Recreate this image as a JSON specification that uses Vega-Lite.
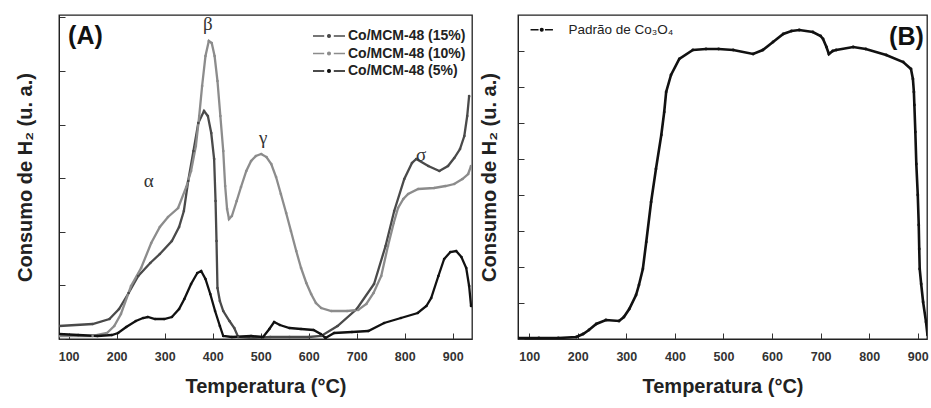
{
  "$schema": "https://vega.github.io/schema/vega-lite/v6.json",
  "padding": {"left": 14, "top": 14, "right": 0, "bottom": 0},
  "background": "white",
  "spacing": 5,
  "config": {
    "font": "Liberation Sans",
    "view": {"stroke": "#222", "strokeWidth": 1.3},
    "axis": {
      "grid": false,
      "domainColor": "#222",
      "tickColor": "#333",
      "labelFont": "Liberation Sans",
      "labelFontWeight": "bold",
      "labelFontSize": 12.5,
      "labelColor": "#333",
      "titleFont": "Liberation Sans",
      "titleFontWeight": "bold",
      "titleFontSize": 20,
      "titleColor": "#222"
    },
    "legend": {
      "labelFont": "Liberation Sans",
      "labelColor": "#222",
      "symbolStrokeWidth": 1.3
    }
  },
  "datasets": {
    "tprA": [
      {"s": "Co/MCM-48 (15%)", "T": 80, "v": 13}, {"s": "Co/MCM-48 (15%)", "T": 150, "v": 15}, {"s": "Co/MCM-48 (15%)", "T": 185, "v": 20}, {"s": "Co/MCM-48 (15%)", "T": 205, "v": 30}, {"s": "Co/MCM-48 (15%)", "T": 225, "v": 46}, {"s": "Co/MCM-48 (15%)", "T": 245, "v": 63}, {"s": "Co/MCM-48 (15%)", "T": 270, "v": 76}, {"s": "Co/MCM-48 (15%)", "T": 290, "v": 85}, {"s": "Co/MCM-48 (15%)", "T": 315, "v": 98}, {"s": "Co/MCM-48 (15%)", "T": 330, "v": 112}, {"s": "Co/MCM-48 (15%)", "T": 340, "v": 128}, {"s": "Co/MCM-48 (15%)", "T": 349, "v": 158}, {"s": "Co/MCM-48 (15%)", "T": 360, "v": 188}, {"s": "Co/MCM-48 (15%)", "T": 370, "v": 216}, {"s": "Co/MCM-48 (15%)", "T": 382, "v": 228}, {"s": "Co/MCM-48 (15%)", "T": 390, "v": 223}, {"s": "Co/MCM-48 (15%)", "T": 397, "v": 206}, {"s": "Co/MCM-48 (15%)", "T": 403, "v": 180}, {"s": "Co/MCM-48 (15%)", "T": 406, "v": 138}, {"s": "Co/MCM-48 (15%)", "T": 408, "v": 98}, {"s": "Co/MCM-48 (15%)", "T": 410, "v": 51}, {"s": "Co/MCM-48 (15%)", "T": 415, "v": 38}, {"s": "Co/MCM-48 (15%)", "T": 422, "v": 28}, {"s": "Co/MCM-48 (15%)", "T": 435, "v": 18}, {"s": "Co/MCM-48 (15%)", "T": 445, "v": 11}, {"s": "Co/MCM-48 (15%)", "T": 453, "v": 2}, {"s": "Co/MCM-48 (15%)", "T": 480, "v": 1}, {"s": "Co/MCM-48 (15%)", "T": 520, "v": 2}, {"s": "Co/MCM-48 (15%)", "T": 560, "v": 2}, {"s": "Co/MCM-48 (15%)", "T": 600, "v": 2}, {"s": "Co/MCM-48 (15%)", "T": 626, "v": 3}, {"s": "Co/MCM-48 (15%)", "T": 660, "v": 13}, {"s": "Co/MCM-48 (15%)", "T": 700, "v": 30}, {"s": "Co/MCM-48 (15%)", "T": 736, "v": 55}, {"s": "Co/MCM-48 (15%)", "T": 760, "v": 93}, {"s": "Co/MCM-48 (15%)", "T": 778, "v": 128}, {"s": "Co/MCM-48 (15%)", "T": 799, "v": 160}, {"s": "Co/MCM-48 (15%)", "T": 815, "v": 176}, {"s": "Co/MCM-48 (15%)", "T": 824, "v": 180}, {"s": "Co/MCM-48 (15%)", "T": 849, "v": 173}, {"s": "Co/MCM-48 (15%)", "T": 872, "v": 168}, {"s": "Co/MCM-48 (15%)", "T": 890, "v": 173}, {"s": "Co/MCM-48 (15%)", "T": 903, "v": 181}, {"s": "Co/MCM-48 (15%)", "T": 915, "v": 190}, {"s": "Co/MCM-48 (15%)", "T": 924, "v": 203}, {"s": "Co/MCM-48 (15%)", "T": 930, "v": 223}, {"s": "Co/MCM-48 (15%)", "T": 934, "v": 243},
      {"s": "Co/MCM-48 (10%)", "T": 80, "v": 3}, {"s": "Co/MCM-48 (10%)", "T": 150, "v": 3}, {"s": "Co/MCM-48 (10%)", "T": 180, "v": 6}, {"s": "Co/MCM-48 (10%)", "T": 195, "v": 13}, {"s": "Co/MCM-48 (10%)", "T": 209, "v": 25}, {"s": "Co/MCM-48 (10%)", "T": 230, "v": 53}, {"s": "Co/MCM-48 (10%)", "T": 251, "v": 71}, {"s": "Co/MCM-48 (10%)", "T": 272, "v": 96}, {"s": "Co/MCM-48 (10%)", "T": 290, "v": 112}, {"s": "Co/MCM-48 (10%)", "T": 307, "v": 122}, {"s": "Co/MCM-48 (10%)", "T": 328, "v": 131}, {"s": "Co/MCM-48 (10%)", "T": 345, "v": 152}, {"s": "Co/MCM-48 (10%)", "T": 355, "v": 168}, {"s": "Co/MCM-48 (10%)", "T": 365, "v": 193}, {"s": "Co/MCM-48 (10%)", "T": 372, "v": 223}, {"s": "Co/MCM-48 (10%)", "T": 378, "v": 253}, {"s": "Co/MCM-48 (10%)", "T": 385, "v": 283}, {"s": "Co/MCM-48 (10%)", "T": 392, "v": 298}, {"s": "Co/MCM-48 (10%)", "T": 398, "v": 296}, {"s": "Co/MCM-48 (10%)", "T": 404, "v": 283}, {"s": "Co/MCM-48 (10%)", "T": 410, "v": 258}, {"s": "Co/MCM-48 (10%)", "T": 416, "v": 223}, {"s": "Co/MCM-48 (10%)", "T": 422, "v": 188}, {"s": "Co/MCM-48 (10%)", "T": 426, "v": 153}, {"s": "Co/MCM-48 (10%)", "T": 430, "v": 130}, {"s": "Co/MCM-48 (10%)", "T": 434, "v": 120}, {"s": "Co/MCM-48 (10%)", "T": 440, "v": 123}, {"s": "Co/MCM-48 (10%)", "T": 450, "v": 138}, {"s": "Co/MCM-48 (10%)", "T": 459, "v": 152}, {"s": "Co/MCM-48 (10%)", "T": 470, "v": 168}, {"s": "Co/MCM-48 (10%)", "T": 480, "v": 178}, {"s": "Co/MCM-48 (10%)", "T": 490, "v": 183}, {"s": "Co/MCM-48 (10%)", "T": 501, "v": 185}, {"s": "Co/MCM-48 (10%)", "T": 512, "v": 182}, {"s": "Co/MCM-48 (10%)", "T": 522, "v": 175}, {"s": "Co/MCM-48 (10%)", "T": 532, "v": 162}, {"s": "Co/MCM-48 (10%)", "T": 542, "v": 145}, {"s": "Co/MCM-48 (10%)", "T": 553, "v": 126}, {"s": "Co/MCM-48 (10%)", "T": 563, "v": 108}, {"s": "Co/MCM-48 (10%)", "T": 574, "v": 88}, {"s": "Co/MCM-48 (10%)", "T": 584, "v": 71}, {"s": "Co/MCM-48 (10%)", "T": 595, "v": 56}, {"s": "Co/MCM-48 (10%)", "T": 605, "v": 45}, {"s": "Co/MCM-48 (10%)", "T": 615, "v": 36}, {"s": "Co/MCM-48 (10%)", "T": 626, "v": 31}, {"s": "Co/MCM-48 (10%)", "T": 647, "v": 28}, {"s": "Co/MCM-48 (10%)", "T": 680, "v": 28}, {"s": "Co/MCM-48 (10%)", "T": 703, "v": 29}, {"s": "Co/MCM-48 (10%)", "T": 720, "v": 35}, {"s": "Co/MCM-48 (10%)", "T": 735, "v": 46}, {"s": "Co/MCM-48 (10%)", "T": 751, "v": 63}, {"s": "Co/MCM-48 (10%)", "T": 765, "v": 93}, {"s": "Co/MCM-48 (10%)", "T": 777, "v": 116}, {"s": "Co/MCM-48 (10%)", "T": 786, "v": 131}, {"s": "Co/MCM-48 (10%)", "T": 797, "v": 140}, {"s": "Co/MCM-48 (10%)", "T": 807, "v": 145}, {"s": "Co/MCM-48 (10%)", "T": 828, "v": 150}, {"s": "Co/MCM-48 (10%)", "T": 861, "v": 151}, {"s": "Co/MCM-48 (10%)", "T": 885, "v": 153}, {"s": "Co/MCM-48 (10%)", "T": 903, "v": 155}, {"s": "Co/MCM-48 (10%)", "T": 920, "v": 160}, {"s": "Co/MCM-48 (10%)", "T": 932, "v": 165}, {"s": "Co/MCM-48 (10%)", "T": 938, "v": 173},
      {"s": "Co/MCM-48 (5%)", "T": 80, "v": 5}, {"s": "Co/MCM-48 (5%)", "T": 120, "v": 4}, {"s": "Co/MCM-48 (5%)", "T": 160, "v": 3}, {"s": "Co/MCM-48 (5%)", "T": 190, "v": 4}, {"s": "Co/MCM-48 (5%)", "T": 203, "v": 6}, {"s": "Co/MCM-48 (5%)", "T": 220, "v": 12}, {"s": "Co/MCM-48 (5%)", "T": 240, "v": 18}, {"s": "Co/MCM-48 (5%)", "T": 255, "v": 21}, {"s": "Co/MCM-48 (5%)", "T": 265, "v": 22}, {"s": "Co/MCM-48 (5%)", "T": 280, "v": 20}, {"s": "Co/MCM-48 (5%)", "T": 299, "v": 20}, {"s": "Co/MCM-48 (5%)", "T": 315, "v": 22}, {"s": "Co/MCM-48 (5%)", "T": 330, "v": 30}, {"s": "Co/MCM-48 (5%)", "T": 341, "v": 40}, {"s": "Co/MCM-48 (5%)", "T": 355, "v": 55}, {"s": "Co/MCM-48 (5%)", "T": 368, "v": 66}, {"s": "Co/MCM-48 (5%)", "T": 376, "v": 68}, {"s": "Co/MCM-48 (5%)", "T": 385, "v": 60}, {"s": "Co/MCM-48 (5%)", "T": 395, "v": 45}, {"s": "Co/MCM-48 (5%)", "T": 405, "v": 28}, {"s": "Co/MCM-48 (5%)", "T": 415, "v": 13}, {"s": "Co/MCM-48 (5%)", "T": 422, "v": 3}, {"s": "Co/MCM-48 (5%)", "T": 440, "v": 2}, {"s": "Co/MCM-48 (5%)", "T": 480, "v": 3}, {"s": "Co/MCM-48 (5%)", "T": 505, "v": 2}, {"s": "Co/MCM-48 (5%)", "T": 518, "v": 10}, {"s": "Co/MCM-48 (5%)", "T": 528, "v": 17}, {"s": "Co/MCM-48 (5%)", "T": 540, "v": 14}, {"s": "Co/MCM-48 (5%)", "T": 560, "v": 11}, {"s": "Co/MCM-48 (5%)", "T": 584, "v": 10}, {"s": "Co/MCM-48 (5%)", "T": 610, "v": 9}, {"s": "Co/MCM-48 (5%)", "T": 625, "v": 5}, {"s": "Co/MCM-48 (5%)", "T": 635, "v": 1}, {"s": "Co/MCM-48 (5%)", "T": 653, "v": 6}, {"s": "Co/MCM-48 (5%)", "T": 690, "v": 7}, {"s": "Co/MCM-48 (5%)", "T": 724, "v": 8}, {"s": "Co/MCM-48 (5%)", "T": 757, "v": 16}, {"s": "Co/MCM-48 (5%)", "T": 792, "v": 21}, {"s": "Co/MCM-48 (5%)", "T": 827, "v": 26}, {"s": "Co/MCM-48 (5%)", "T": 845, "v": 33}, {"s": "Co/MCM-48 (5%)", "T": 855, "v": 41}, {"s": "Co/MCM-48 (5%)", "T": 870, "v": 63}, {"s": "Co/MCM-48 (5%)", "T": 882, "v": 80}, {"s": "Co/MCM-48 (5%)", "T": 895, "v": 87}, {"s": "Co/MCM-48 (5%)", "T": 907, "v": 88}, {"s": "Co/MCM-48 (5%)", "T": 918, "v": 82}, {"s": "Co/MCM-48 (5%)", "T": 928, "v": 71}, {"s": "Co/MCM-48 (5%)", "T": 934, "v": 53}, {"s": "Co/MCM-48 (5%)", "T": 938, "v": 33}
    ],
    "labelsA": [
      {"t": "β", "T": 390, "v": 315, "k": "greek"},
      {"t": "α", "T": 267, "v": 158, "k": "greek"},
      {"t": "γ", "T": 505, "v": 201, "k": "greek"},
      {"t": "σ", "T": 834, "v": 184, "k": "greek"},
      {"t": "(A)", "T": 99, "v": 303, "k": "panel"}
    ],
    "tprB": [
      {"s": "Padrão de Co₃O₄", "T": 77, "v": 1}, {"s": "Padrão de Co₃O₄", "T": 120, "v": 1}, {"s": "Padrão de Co₃O₄", "T": 160, "v": 1}, {"s": "Padrão de Co₃O₄", "T": 197, "v": 2}, {"s": "Padrão de Co₃O₄", "T": 211, "v": 5}, {"s": "Padrão de Co₃O₄", "T": 223, "v": 9}, {"s": "Padrão de Co₃O₄", "T": 238, "v": 15}, {"s": "Padrão de Co₃O₄", "T": 258, "v": 19}, {"s": "Padrão de Co₃O₄", "T": 285, "v": 18}, {"s": "Padrão de Co₃O₄", "T": 295, "v": 22}, {"s": "Padrão de Co₃O₄", "T": 306, "v": 30}, {"s": "Padrão de Co₃O₄", "T": 320, "v": 44}, {"s": "Padrão de Co₃O₄", "T": 326, "v": 54}, {"s": "Padrão de Co₃O₄", "T": 334, "v": 70}, {"s": "Padrão de Co₃O₄", "T": 341, "v": 97}, {"s": "Padrão de Co₃O₄", "T": 351, "v": 137}, {"s": "Padrão de Co₃O₄", "T": 361, "v": 170}, {"s": "Padrão de Co₃O₄", "T": 372, "v": 204}, {"s": "Padrão de Co₃O₄", "T": 378, "v": 227}, {"s": "Padrão de Co₃O₄", "T": 382, "v": 247}, {"s": "Padrão de Co₃O₄", "T": 392, "v": 264}, {"s": "Padrão de Co₃O₄", "T": 409, "v": 280}, {"s": "Padrão de Co₃O₄", "T": 437, "v": 289}, {"s": "Padrão de Co₃O₄", "T": 464, "v": 290}, {"s": "Padrão de Co₃O₄", "T": 490, "v": 290}, {"s": "Padrão de Co₃O₄", "T": 520, "v": 289}, {"s": "Padrão de Co₃O₄", "T": 561, "v": 285}, {"s": "Padrão de Co₃O₄", "T": 581, "v": 289}, {"s": "Padrão de Co₃O₄", "T": 602, "v": 297}, {"s": "Padrão de Co₃O₄", "T": 623, "v": 305}, {"s": "Padrão de Co₃O₄", "T": 640, "v": 308}, {"s": "Padrão de Co₃O₄", "T": 656, "v": 309}, {"s": "Padrão de Co₃O₄", "T": 684, "v": 307}, {"s": "Padrão de Co₃O₄", "T": 700, "v": 303}, {"s": "Padrão de Co₃O₄", "T": 705, "v": 300}, {"s": "Padrão de Co₃O₄", "T": 712, "v": 292}, {"s": "Padrão de Co₃O₄", "T": 717, "v": 285}, {"s": "Padrão de Co₃O₄", "T": 725, "v": 288}, {"s": "Padrão de Co₃O₄", "T": 732, "v": 289}, {"s": "Padrão de Co₃O₄", "T": 767, "v": 292}, {"s": "Padrão de Co₃O₄", "T": 793, "v": 290}, {"s": "Padrão de Co₃O₄", "T": 835, "v": 284}, {"s": "Padrão de Co₃O₄", "T": 870, "v": 277}, {"s": "Padrão de Co₃O₄", "T": 886, "v": 270}, {"s": "Padrão de Co₃O₄", "T": 890, "v": 260}, {"s": "Padrão de Co₃O₄", "T": 892, "v": 247}, {"s": "Padrão de Co₃O₄", "T": 893, "v": 234}, {"s": "Padrão de Co₃O₄", "T": 895, "v": 207}, {"s": "Padrão de Co₃O₄", "T": 897, "v": 175}, {"s": "Padrão de Co₃O₄", "T": 900, "v": 144}, {"s": "Padrão de Co₃O₄", "T": 902, "v": 114}, {"s": "Padrão de Co₃O₄", "T": 903, "v": 90}, {"s": "Padrão de Co₃O₄", "T": 904, "v": 70}, {"s": "Padrão de Co₃O₄", "T": 907, "v": 55}, {"s": "Padrão de Co₃O₄", "T": 911, "v": 37}, {"s": "Padrão de Co₃O₄", "T": 917, "v": 17}, {"s": "Padrão de Co₃O₄", "T": 920, "v": 4}
    ],
    "labelsB": [
      {"t": "(B)", "T": 841, "v": 302}
    ]
  },
  "hconcat": [
    {
      "width": 413,
      "height": 324,
      "layer": [
        {
          "data": {"name": "tprA"},
          "mark": {"type": "line", "strokeWidth": 2.3, "clip": true, "point": {"size": 7, "filled": true}},
          "encoding": {
            "x": {
              "field": "T", "type": "quantitative",
              "scale": {"domain": [80, 940], "nice": false, "zero": false},
              "axis": {
                "title": "Temperatura  (°C)",
                "titlePadding": 14,
                "values": [100, 150, 200, 250, 300, 350, 400, 450, 500, 550, 600, 650, 700, 750, 800, 850, 900],
                "labelExpr": "datum.value % 100 === 0 ? datum.label : ''",
                "labelPadding": 17,
                "tickSize": {"condition": {"test": "datum.value % 100 === 0", "value": -6}, "value": -3}
              }
            },
            "y": {
              "field": "v", "type": "quantitative",
              "scale": {"domain": [0, 324], "nice": false, "zero": false},
              "axis": {
                "title": "Consumo de H₂ (u. a.)",
                "labels": false,
                "titlePadding": 23,
                "values": [0, 13.4, 26.8, 40.2, 53.6, 67, 80.4, 93.8, 107.2, 120.6, 134, 147.4, 160.8, 174.2, 187.6, 201, 214.4, 227.8, 241.2, 254.6, 268, 281.4, 294.8, 308.2, 321.6],
                "tickSize": {"condition": {"test": "round(datum.value / 13.4) % 2 === 0", "value": -6}, "value": -3}
              }
            },
            "color": {
              "field": "s", "type": "nominal",
              "scale": {"domain": ["Co/MCM-48 (15%)", "Co/MCM-48 (10%)", "Co/MCM-48 (5%)"], "range": ["#4a4a4a", "#8c8c8c", "#111111"]},
              "legend": {
                "title": null,
                "orient": "none",
                "legendX": 247,
                "legendY": 14,
                "labelFontSize": 14,
                "labelFontWeight": "bold",
                "symbolType": "M-4,0H-1.2M1.2,0H4M-0.35,0a0.35,0.35 0 1,0 0.7,0a0.35,0.35 0 1,0 -0.7,0",
                "symbolSize": 64,
                "symbolOffset": 16,
                "labelOffset": 12,
                "rowPadding": 3.5
              }
            }
          }
        },
        {
          "data": {"name": "labelsA"},
          "transform": [{"filter": "datum.k === 'greek'"}],
          "mark": {"type": "text", "font": "Liberation Serif", "fontSize": 19, "color": "#333", "align": "center", "baseline": "middle"},
          "encoding": {
            "x": {"field": "T", "type": "quantitative"},
            "y": {"field": "v", "type": "quantitative"},
            "text": {"field": "t"}
          }
        },
        {
          "data": {"name": "labelsA"},
          "transform": [{"filter": "datum.k === 'panel'"}],
          "mark": {"type": "text", "font": "Liberation Sans", "fontWeight": "bold", "fontSize": 25, "color": "#111", "align": "left", "baseline": "middle"},
          "encoding": {
            "x": {"field": "T", "type": "quantitative"},
            "y": {"field": "v", "type": "quantitative"},
            "text": {"field": "t"}
          }
        }
      ]
    },
    {
      "width": 409,
      "height": 324,
      "layer": [
        {
          "data": {"name": "tprB"},
          "mark": {"type": "line", "strokeWidth": 2.6, "clip": true, "point": {"size": 8, "filled": true}},
          "encoding": {
            "x": {
              "field": "T", "type": "quantitative",
              "scale": {"domain": [77, 919], "nice": false, "zero": false},
              "axis": {
                "title": "Temperatura  (°C)",
                "titlePadding": 14,
                "values": [100, 150, 200, 250, 300, 350, 400, 450, 500, 550, 600, 650, 700, 750, 800, 850, 900],
                "labelExpr": "datum.value % 100 === 0 ? datum.label : ''",
                "labelPadding": 17,
                "tickSize": {"condition": {"test": "datum.value % 100 === 0", "value": -6}, "value": -3}
              }
            },
            "y": {
              "field": "v", "type": "quantitative",
              "scale": {"domain": [0, 324], "nice": false, "zero": false},
              "axis": {
                "title": "Consumo de H₂ (u. a.)",
                "labels": false,
                "titlePadding": 18,
                "values": [0, 18, 36, 54, 72, 90, 108, 126, 144, 162, 180, 198, 216, 234, 252, 270, 288, 306],
                "tickSize": {"condition": {"test": "round(datum.value / 18) % 2 === 0", "value": -6}, "value": -3}
              }
            },
            "color": {
              "field": "s", "type": "nominal",
              "scale": {"range": ["#111111"]},
              "legend": {
                "title": null,
                "orient": "none",
                "legendX": 6,
                "legendY": 8,
                "labelFontSize": 13.5,
                "labelFontWeight": "normal",
                "symbolType": "M-2.8,0H-0.8M0.8,0H2.8M-0.35,0a0.35,0.35 0 1,0 0.7,0a0.35,0.35 0 1,0 -0.7,0",
                "symbolSize": 64,
                "symbolOffset": 11,
                "labelOffset": 20
              }
            }
          }
        },
        {
          "data": {"name": "labelsB"},
          "mark": {"type": "text", "font": "Liberation Sans", "fontWeight": "bold", "fontSize": 25, "color": "#111", "align": "left", "baseline": "middle"},
          "encoding": {
            "x": {"field": "T", "type": "quantitative"},
            "y": {"field": "v", "type": "quantitative"},
            "text": {"field": "t"}
          }
        }
      ]
    }
  ],
  "resolve": {"scale": {"color": "independent"}, "legend": {"color": "independent"}}
}
